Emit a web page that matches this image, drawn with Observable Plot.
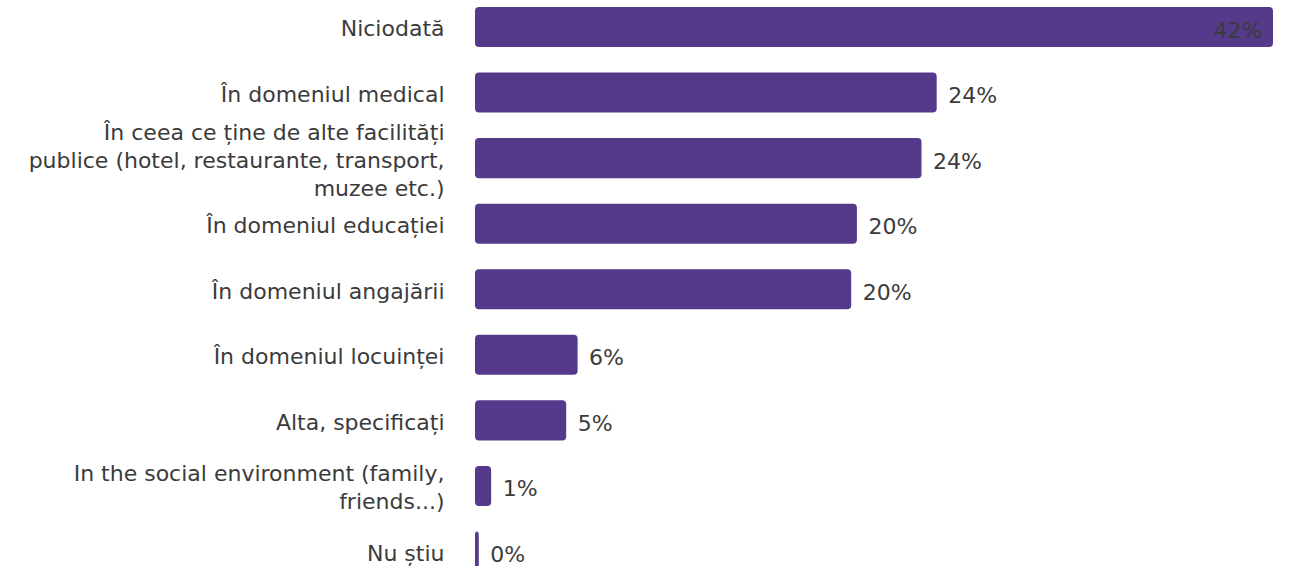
<!DOCTYPE html>
<html>
<head>
<meta charset="utf-8">
<script src="https://cdn.jsdelivr.net/npm/d3@7"></script>
<script src="https://cdn.jsdelivr.net/npm/@observablehq/plot@0.6"></script>
<style>
  html, body { margin: 0; padding: 0; background: #fff; }
  #chart svg { display: block; }
</style>
</head>
<body>
<div id="chart"></div>
<script>
const categories = [
  "Niciodată",
  "În domeniul medical",
  "În ceea ce ține de alte facilități publice (hotel, restaurante, transport, muzee etc.)",
  "În domeniul educației",
  "În domeniul angajării",
  "În domeniul locuinței",
  "Alta, specificați",
  "In the social environment (family, friends...)",
  "Nu știu"
];
const tickLabels = [
  "Niciodată",
  "În domeniul medical",
  "În ceea ce ține de alte facilități\npublice (hotel, restaurante, transport,\nmuzee etc.)",
  "În domeniul educației",
  "În domeniul angajării",
  "În domeniul locuinței",
  "Alta, specificați",
  "In the social environment (family,\nfriends...)",
  "Nu știu"
];
const values = [42, 24.3, 23.5, 20.1, 19.8, 5.4, 4.8, 0.85, 0.2];
const valueLabels = ["42%", "24%", "24%", "20%", "20%", "6%", "5%", "1%", "0%"];

const data = categories.map((c, i) => ({category: c, value: values[i], label: valueLabels[i]}));
const maxV = d3.max(values);
const tickMap = new Map(categories.map((c, i) => [c, tickLabels[i]]));

const chart = Plot.plot({
  width: 1289,
  height: 566,
  marginLeft: 475,
  marginRight: 16,
  marginTop: 0,
  marginBottom: 0,
  style: {fontFamily: "DejaVu Sans, Verdana, sans-serif", fontSize: "22px", color: "#3b3b3b", background: "#fff"},
  x: {domain: [0, maxV], axis: null},
  y: {domain: categories, range: [7, 571.5], paddingInner: 0.389, paddingOuter: 0, round: false, label: null},
  marks: [
    Plot.axisY({tickSize: 0, tickPadding: 31, fontSize: 22, fill: "#3b3b3b", tickFormat: d => tickMap.get(d), lineHeight: 1.27, label: null}),
    Plot.barX(data, {x: "value", y: "category", fill: "#553a8b", rx: 4}),
    Plot.text(data.filter(d => d.value < maxV), {x: "value", y: "category", text: "label", dx: 11, dy: 3, textAnchor: "start", fill: "#3b3b3b", fontSize: 22}),
    Plot.text(data.filter(d => d.value === maxV), {x: "value", y: "category", text: "label", dx: -11, dy: 3, textAnchor: "end", fill: "#3b3b3b", fontSize: 22})
  ]
});
document.getElementById("chart").appendChild(chart);
</script>
</body>
</html>
